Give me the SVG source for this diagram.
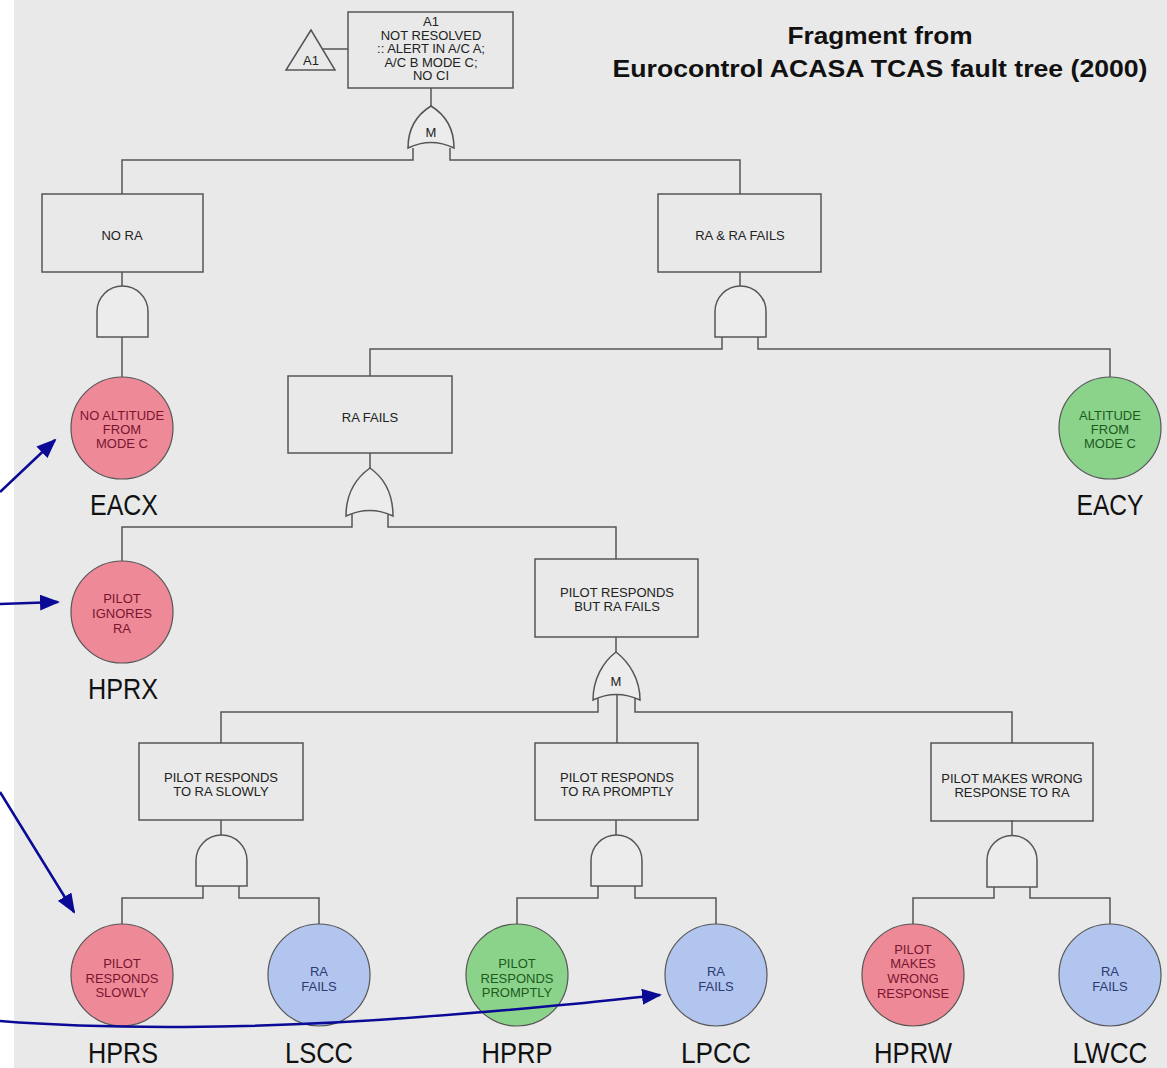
<svg xmlns="http://www.w3.org/2000/svg" width="1167" height="1068" viewBox="0 0 1167 1068">
<defs>
<style>
.bg{fill:#e9e9e9}
.box{fill:none;stroke:#555;stroke-width:1.5}
.gate{fill:#ececec;stroke:#555;stroke-width:1.5}
.ln{fill:none;stroke:#555;stroke-width:1.5}
.bt{font-family:"Liberation Sans",Arial,sans-serif;font-size:13px;fill:#222;text-anchor:middle}
.ct{font-family:"Liberation Sans",Arial,sans-serif;font-size:13px;text-anchor:middle}
.lbl{font-family:"Liberation Sans",Arial,sans-serif;font-size:30px;fill:#111;text-anchor:middle}
.pink{fill:#ee8997;stroke:#555;stroke-width:1.2}
.green{fill:#8bd38b;stroke:#555;stroke-width:1.2}
.blue{fill:#b2c5ef;stroke:#555;stroke-width:1.2}
.pt{fill:#7a1530}.gt{fill:#1d5a1d}.blt{fill:#2b3a70}
.arr{fill:none;stroke:#0a0a96;stroke-width:2.5}
.title{font-family:"Liberation Sans",Arial,sans-serif;font-size:24px;font-weight:bold;fill:#111;text-anchor:middle}
</style>
<marker id="ah" markerWidth="20" markerHeight="16" refX="18" refY="8" orient="auto" markerUnits="userSpaceOnUse">
<path d="M0,0 L20,8 L0,16 Z" fill="#0a0a96"/>
</marker>
</defs>
<rect x="0" y="0" width="1167" height="1068" fill="#ffffff"/>
<rect class="bg" x="14" y="0" width="1153" height="1068"/>

<g id="title">
<text class="title" x="880" y="44" textLength="185" lengthAdjust="spacingAndGlyphs">Fragment from</text>
<text class="title" x="880" y="77" textLength="535" lengthAdjust="spacingAndGlyphs">Eurocontrol ACASA TCAS fault tree (2000)</text>
</g>

<g id="connectors">
<path class="ln" d="M323,49 L348,49"/>
<path class="ln" d="M431,88 L431,106"/>
<path class="ln" d="M413,148 L413,160 L122,160 L122,194"/>
<path class="ln" d="M450,148 L450,160 L740,160 L740,194"/>
<path class="ln" d="M122,272 L122,286"/>
<path class="ln" d="M122,337 L122,377"/>
<path class="ln" d="M740,272 L740,286"/>
<path class="ln" d="M722,337 L722,349 L370,349 L370,376"/>
<path class="ln" d="M758,337 L758,349 L1110,349 L1110,377"/>
<path class="ln" d="M370,453 L370,468"/>
<path class="ln" d="M352,514 L352,527 L122,527 L122,561"/>
<path class="ln" d="M388,514 L388,527 L616,527 L616,559"/>
<path class="ln" d="M616,637 L616,652"/>
<path class="ln" d="M598,698 L598,712 L221,712 L221,743"/>
<path class="ln" d="M635,698 L635,712 L1012,712 L1012,743"/>
<path class="ln" d="M617,693 L617,743"/>
<path class="ln" d="M221,820 L221,835"/>
<path class="ln" d="M616,820 L616,835"/>
<path class="ln" d="M1012,820 L1012,835"/>
<path class="ln" d="M203,886 L203,898 L122,898 L122,925"/>
<path class="ln" d="M239,886 L239,898 L319,898 L319,925"/>
<path class="ln" d="M598,886 L598,898 L517,898 L517,925"/>
<path class="ln" d="M635,886 L635,898 L716,898 L716,925"/>
<path class="ln" d="M994,886 L994,898 L913,898 L913,925"/>
<path class="ln" d="M1030,886 L1030,898 L1110,898 L1110,925"/>
</g>

<g id="gates">
<g id="gate-top-m">
<path class="gate" d="M408,148 C408,127 418,114 431,106 C444,114 454,127 454,148 Q431,137 408,148 Z"/>
<text class="bt" x="431" y="137">M</text>
</g>
<path id="gate-nora" class="gate" d="M97,337 L97,311.5 A25.5,25.5 0 0 1 148,311.5 L148,337 Z"/>
<path id="gate-rarafails" class="gate" d="M715,337 L715,311.5 A25.5,25.5 0 0 1 766,311.5 L766,337 Z"/>
<path id="gate-rafails" class="gate" d="M346,516 C346,494 356,478 370,468 C384,478 393,494 393,516 Q370,505 346,516 Z"/>
<g id="gate-prbrf-m">
<path class="gate" d="M593,700 C593,679 603,662 616,652 C629,662 640,679 640,700 Q616,689 593,700 Z"/>
<text class="bt" x="616" y="686">M</text>
</g>
<path id="gate-slowly" class="gate" d="M196,886 L196,860.5 A25.5,25.5 0 0 1 247,860.5 L247,886 Z"/>
<path id="gate-promptly" class="gate" d="M591,886 L591,860.5 A25.5,25.5 0 0 1 642,860.5 L642,886 Z"/>
<path id="gate-wrong" class="gate" d="M987,887 L987,860.5 A25,25 0 0 1 1037,860.5 L1037,887 Z"/>
</g>

<g id="a1-transfer">
<path class="box" d="M311,30 L286,70 L335,70 Z"/>
<text class="bt" x="311" y="65">A1</text>
</g>

<g id="top-event">
<rect class="box" x="348" y="12" width="165" height="76"/>
<text class="bt" x="431" y="26">A1</text>
<text class="bt" x="431" y="40">NOT RESOLVED</text>
<text class="bt" x="431" y="53">:: ALERT IN A/C A;</text>
<text class="bt" x="431" y="67">A/C B MODE C;</text>
<text class="bt" x="431" y="80">NO CI</text>
</g>

<g id="no-ra">
<rect class="box" x="42" y="194" width="161" height="78"/>
<text class="bt" x="122" y="240">NO RA</text>
</g>
<g id="ra-ra-fails">
<rect class="box" x="658" y="194" width="163" height="78"/>
<text class="bt" x="740" y="240">RA &amp; RA FAILS</text>
</g>
<g id="ra-fails">
<rect class="box" x="288" y="376" width="164" height="77"/>
<text class="bt" x="370" y="422">RA FAILS</text>
</g>
<g id="pilot-responds-but-ra-fails">
<rect class="box" x="535" y="559" width="163" height="78"/>
<text class="bt" x="617" y="597">PILOT RESPONDS</text>
<text class="bt" x="617" y="611">BUT RA FAILS</text>
</g>
<g id="pilot-responds-slowly">
<rect class="box" x="139" y="743" width="164" height="77"/>
<text class="bt" x="221" y="782">PILOT RESPONDS</text>
<text class="bt" x="221" y="796">TO RA SLOWLY</text>
</g>
<g id="pilot-responds-promptly">
<rect class="box" x="535" y="743" width="163" height="77"/>
<text class="bt" x="617" y="782">PILOT RESPONDS</text>
<text class="bt" x="617" y="796">TO RA PROMPTLY</text>
</g>
<g id="pilot-wrong-response">
<rect class="box" x="931" y="743" width="162" height="78"/>
<text class="bt" x="1012" y="783">PILOT MAKES WRONG</text>
<text class="bt" x="1012" y="797">RESPONSE TO RA</text>
</g>

<g id="EACX">
<circle class="pink" cx="122" cy="428" r="51"/>
<text class="ct pt" x="122" y="420">NO ALTITUDE</text>
<text class="ct pt" x="122" y="434">FROM</text>
<text class="ct pt" x="122" y="448">MODE C</text>
<text class="lbl" x="124" y="515" textLength="68" lengthAdjust="spacingAndGlyphs">EACX</text>
</g>
<g id="EACY">
<circle class="green" cx="1110" cy="428" r="51"/>
<text class="ct gt" x="1110" y="420">ALTITUDE</text>
<text class="ct gt" x="1110" y="434">FROM</text>
<text class="ct gt" x="1110" y="448">MODE C</text>
<text class="lbl" x="1110" y="515" textLength="67" lengthAdjust="spacingAndGlyphs">EACY</text>
</g>
<g id="HPRX">
<circle class="pink" cx="122" cy="612" r="51"/>
<text class="ct pt" x="122" y="603">PILOT</text>
<text class="ct pt" x="122" y="618">IGNORES</text>
<text class="ct pt" x="122" y="633">RA</text>
<text class="lbl" x="123" y="699" textLength="70" lengthAdjust="spacingAndGlyphs">HPRX</text>
</g>
<g id="HPRS">
<circle class="pink" cx="122" cy="975" r="51"/>
<text class="ct pt" x="122" y="968">PILOT</text>
<text class="ct pt" x="122" y="983">RESPONDS</text>
<text class="ct pt" x="122" y="997">SLOWLY</text>
<text class="lbl" x="123" y="1063" textLength="70" lengthAdjust="spacingAndGlyphs">HPRS</text>
</g>
<g id="LSCC">
<circle class="blue" cx="319" cy="975" r="51"/>
<text class="ct blt" x="319" y="976">RA</text>
<text class="ct blt" x="319" y="991">FAILS</text>
<text class="lbl" x="319" y="1063" textLength="68" lengthAdjust="spacingAndGlyphs">LSCC</text>
</g>
<g id="HPRP">
<circle class="green" cx="517" cy="975" r="51"/>
<text class="ct gt" x="517" y="968">PILOT</text>
<text class="ct gt" x="517" y="983">RESPONDS</text>
<text class="ct gt" x="517" y="997">PROMPTLY</text>
<text class="lbl" x="517" y="1063" textLength="71" lengthAdjust="spacingAndGlyphs">HPRP</text>
</g>
<g id="LPCC">
<circle class="blue" cx="716" cy="975" r="51"/>
<text class="ct blt" x="716" y="976">RA</text>
<text class="ct blt" x="716" y="991">FAILS</text>
<text class="lbl" x="716" y="1063" textLength="70" lengthAdjust="spacingAndGlyphs">LPCC</text>
</g>
<g id="HPRW">
<circle class="pink" cx="913" cy="975" r="51"/>
<text class="ct pt" x="913" y="954">PILOT</text>
<text class="ct pt" x="913" y="968">MAKES</text>
<text class="ct pt" x="913" y="983">WRONG</text>
<text class="ct pt" x="913" y="998">RESPONSE</text>
<text class="lbl" x="913" y="1063" textLength="78" lengthAdjust="spacingAndGlyphs">HPRW</text>
</g>
<g id="LWCC">
<circle class="blue" cx="1110" cy="975" r="51"/>
<text class="ct blt" x="1110" y="976">RA</text>
<text class="ct blt" x="1110" y="991">FAILS</text>
<text class="lbl" x="1110" y="1063" textLength="75" lengthAdjust="spacingAndGlyphs">LWCC</text>
</g>

<g id="annotation-arrows">
<path class="arr" d="M0,492 L55,440" marker-end="url(#ah)"/>
<path class="arr" d="M0,604 L58,602" marker-end="url(#ah)"/>
<path class="arr" d="M0,792 L74,912" marker-end="url(#ah)"/>
<path class="arr" d="M0,1021 C100,1029 250,1030 420,1017 S600,1001 660,995" marker-end="url(#ah)"/>
</g>
</svg>
